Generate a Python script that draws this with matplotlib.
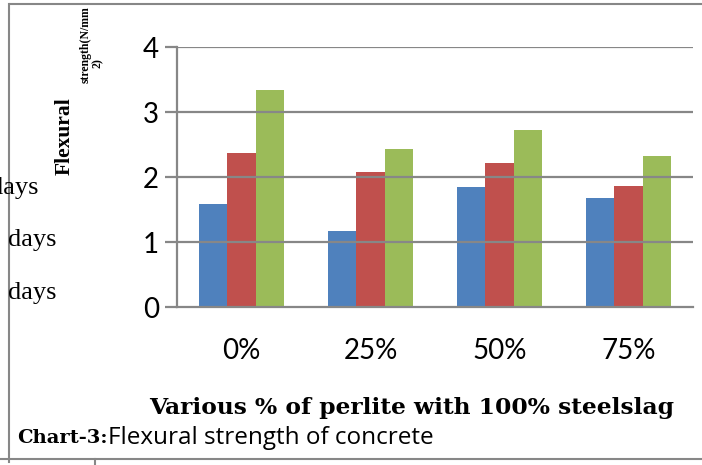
import matplotlib.pyplot as plt
import numpy as np
from matplotlib.lines import Line2D

# data
categories = ["0%", "25%", "50%", "75%"]
series_a = [1.58, 1.17, 1.84, 1.67]
series_b = [2.37, 2.07, 2.22, 1.86]
series_c = [3.34, 2.43, 2.73, 2.33]
yticks = [0, 1, 2, 3, 4]

colors = ["#4F81BD", "#C0504D", "#9BBB59"]
grid_color = "#878787"

W, H = 702, 465
fig = plt.figure(figsize=(W / 100, H / 100), dpi=100)
ax = fig.add_axes([177 / W, (H - 307) / H, (693 - 177) / W, (307 - 47) / H])

x = np.arange(len(categories))
bw = 0.222
for i, (vals, col) in enumerate(zip([series_a, series_b, series_c], colors)):
    ax.bar(x + (i - 1) * bw, vals, width=bw, color=col, zorder=1)

ax.set_xlim(-0.5, 3.5)
ax.set_ylim(0, 4)
ax.set_yticks(yticks)
ax.set_xticks(x)
ax.set_xticklabels(categories)
for y in yticks[1:]:
    ax.axhline(y, color=grid_color, lw=1.6, zorder=2)

for side in ["top", "right"]:
    ax.spines[side].set_visible(False)
ax.spines["left"].set_color(grid_color)
ax.spines["left"].set_linewidth(1.6)
ax.spines["bottom"].set_color(grid_color)
ax.spines["bottom"].set_linewidth(1.6)
ax.spines["bottom"].set_zorder(3)

ax.tick_params(axis="y", length=9, width=1.6, color=grid_color, pad=4,
               labelsize=20)
ax.tick_params(axis="x", length=0, pad=22, labelsize=20)
for lbl in ax.get_xticklabels() + ax.get_yticklabels():
    lbl.set_family("Lato")

# axis titles
serif = "Liberation Serif"
fig.text(65 / W, 1 - 136 / H, "Flexural", rotation=90, ha="center", va="center",
         family=serif, weight="bold", fontsize=15.5)
fig.text(86 / W, 1 - 45 / H, "strength(N/mm", rotation=90, ha="center", va="center",
         family=serif, weight="bold", fontsize=8.5)
fig.text(98 / W, 1 - 63 / H, "2)", rotation=90, ha="center", va="center",
         family=serif, weight="bold", fontsize=8.5)
fig.text(412 / W, 1 - 408 / H, "Various % of perlite with 100% steelslag",
         ha="center", va="center", family="DejaVu Serif", weight="bold", fontsize=16.8)

# cut-off legend remnants
for yy, xx in [(188, -10), (240, 8), (293, 8)]:
    fig.text(xx / W, 1 - yy / H, "days", ha="left", va="center",
             family=serif, fontsize=19)

# caption
t = fig.text(17 / W, 1 - 438 / H, "Chart-3:", ha="left", va="center",
             family="DejaVu Serif", weight="bold", fontsize=14)
fig.canvas.draw()
bb = t.get_window_extent()
fig.text(bb.x1 / W, 1 - 438 / H, "Flexural strength of concrete", ha="left",
         va="center", family="Open Sans", fontsize=17.5)

# page frame lines
frame = [([10, W], [4, 4]), ([9, 9], [4, 462]), ([0, W], [459, 459]), ([95, 95], [459, 465])]
for xs, ys in frame:
    fig.add_artist(Line2D([v / W for v in xs], [1 - v / H for v in ys],
                          color=grid_color, lw=1.5))

fig.savefig("out.png", dpi=100)
